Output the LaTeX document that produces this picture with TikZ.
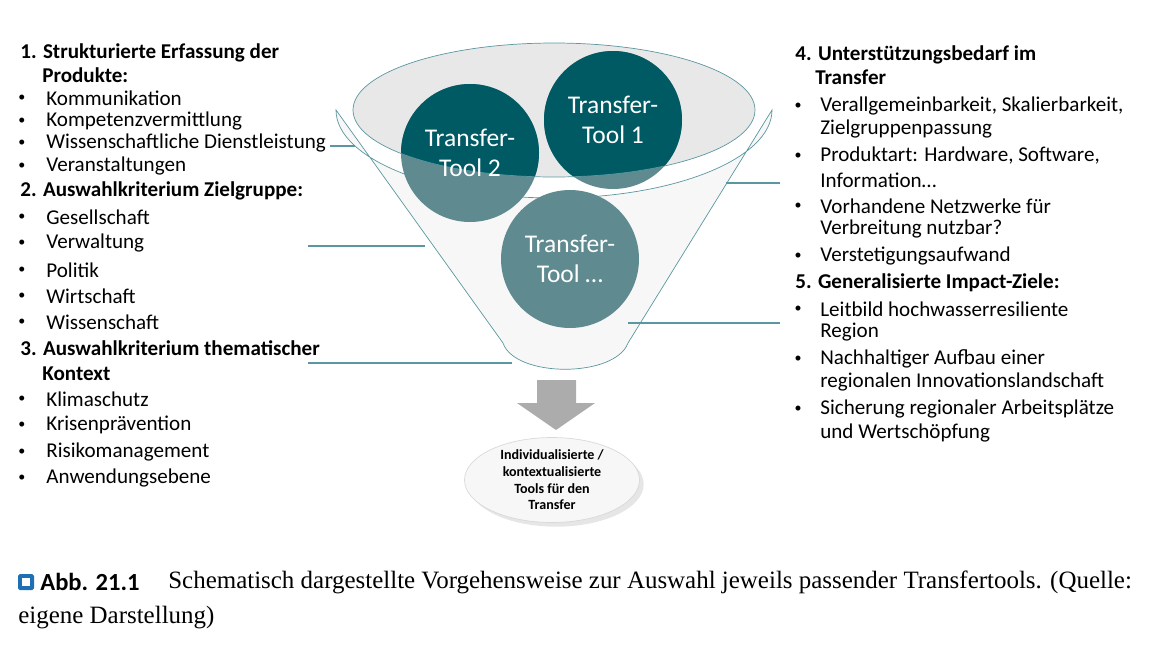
\documentclass[tikz,border=0pt]{standalone}
\usepackage{fontspec}
\setmainfont{Carlito}
\newfontfamily\capfont{Liberation Serif}
\usetikzlibrary{positioning,shadows,shapes.geometric}
\definecolor{tealdark}{HTML}{005A64}
\definecolor{teallight}{HTML}{5F8A8F}
\definecolor{tealline}{HTML}{5A97A0}
\definecolor{capblue}{HTML}{1F6FB4}
\begin{document}
\begin{tikzpicture}
    [
        x=0.02cm, y=-0.02cm,
        txt/.style={anchor=west, inner sep=0pt, font=\fontsize{12}{14}\selectfont},
        head/.style={txt, font=\fontsize{12}{14}\selectfont\bfseries},
        bul/.style={anchor=center, inner sep=0pt, font=\fontsize{8}{10}\selectfont},
        tool/.style={circle, minimum size=2.76cm, inner sep=0pt},
        toolTxt/.style={align=center, text=white, font=\fontsize{14.5}{17}\selectfont},
        link/.style={tealline, thick}
    ]
    \useasboundingbox (0,0) rectangle (1156,650);
    % funnel body
    \draw[tealline, fill=gray!6] (336,110) arc[start angle=180, end angle=0, x radius=218, y radius=88]
        -- (628,343) .. controls (615,378) and (515,378) .. (503,343) -- cycle;
    \fill[gray!18] (554,110) ellipse [x radius=201, y radius=67];
    % tools
    \node[tool, fill=teallight] (t2) at (470,153) {};
    \node[tool, fill=teallight] (t1) at (613,120) {};
    \node[tool, fill=teallight] (tn) at (570,259) {};
    \begin{scope}
        \clip (554,110) ellipse [x radius=201, y radius=67];
        \fill[tealdark] (t2) circle [radius=69];
        \fill[tealdark] (t1) circle [radius=69];
    \end{scope}
    \draw[tealline] (554,110) ellipse [x radius=201, y radius=67];
    \node[toolTxt] at (t2) {Transfer-\\Tool 2};
    \node[toolTxt] at (t1) {Transfer-\\Tool 1};
    \node[toolTxt] at (tn) {Transfer-\\Tool \dots};
    % connectors
    \coordinate (a1) at (330,146); \coordinate (a2) at (355,146);
    \coordinate (b1) at (308,246); \coordinate (b2) at (425,246);
    \coordinate (c1) at (308,363); \coordinate (c2) at (512,363);
    \coordinate (d1) at (726,183); \coordinate (d2) at (780,183);
    \coordinate (e1) at (628,323); \coordinate (e2) at (780,323);
    \draw[link] (a1) -- (a2);
    \draw[link] (b1) -- (b2);
    \draw[link] (c1) -- (c2);
    \draw[link] (d1) -- (d2);
    \draw[link] (e1) -- (e2);
    % arrow and result
    \fill[gray!65] (537,380) -- (576,380) -- (576,403) -- (595,403) -- (556,430)
        -- (517,403) -- (537,403) -- cycle;
    \node[ellipse, draw=gray!30, fill=gray!6, minimum width=3.5cm, minimum height=1.7cm,
        drop shadow={opacity=0.2}, align=center, inner sep=0pt,
        font=\fontsize{8}{9.5}\selectfont\bfseries] (res) at (552,480)
        {Individualisierte /\\kontextualisierte\\Tools für den\\Transfer};
    % left list
    \node[head] (h1) at (20,53) {1. Strukturierte Erfassung der};
    \node[head] (h1b) at (42,75) {Produkte:};
    \node[head] (h2) at (20,191) {2. Auswahlkriterium Zielgruppe:};
    \node[head] (h3) at (20,348) {3. Auswahlkriterium thematischer};
    \node[head] (h3b) at (42,374) {Kontext};
    \foreach \y/\t in {98/Kommunikation,121/Kompetenzvermittlung,143/Wissenschaftliche Dienstleistung,
        166/Veranstaltungen,217/Gesellschaft,243/Verwaltung,270/Politik,296/Wirtschaft,322/Wissenschaft,
        399/Klimaschutz,425/Krisenprävention,452/Risikomanagement,478/Anwendungsebene}
    {
        \node[bul] (lb\y) at (22,\y) {•};
        \node[txt] (l\y) at (46,\y) {\t};
    }
    % right list
    \node[head] (h4) at (795,55) {4. Unterstützungsbedarf im};
    \node[head] (h4b) at (815,77) {Transfer};
    \node[head] (h5) at (795,283) {5. Generalisierte Impact-Ziele:};
    \foreach \y/\t in {106/{Verallgemeinbarkeit, Skalierbarkeit,},129/Zielgruppenpassung,
        156/{Produktart: Hardware, Software,},180/Information\dots,206/Vorhandene Netzwerke für,
        229/Verbreitung nutzbar?,256/Verstetigungsaufwand,309/Leitbild hochwasserresiliente,
        332/Region,359/Nachhaltiger Aufbau einer,382/regionalen Innovationslandschaft,
        409/Sicherung regionaler Arbeitsplätze,433/und Wertschöpfung}
    {
        \node[txt] (r\y) at (820,\y) {\t};
    }
    \foreach \y in {106,156,206,256,309,359,409}
        \node[bul] (rb\y) at (798,\y) {•};
    % caption
    \fill[capblue, rounded corners=1pt] (18,574) rectangle (34,590);
    \fill[white] (22,578) rectangle (30,586);
    \node[anchor=west, inner sep=0pt, font=\fontsize{14}{16}\selectfont\bfseries] (abb) at (40,582) {Abb. 21.1};
    \node[anchor=west, inner sep=0pt, font=\fontsize{14.2}{17}\capfont] (cap1) at (168,582)
        {Schematisch dargestellte Vorgehensweise zur Auswahl jeweils passender Transfertools. (Quelle:};
    \node[anchor=west, inner sep=0pt, font=\fontsize{14.2}{17}\capfont] (cap2) at (18,618) {eigene Darstellung)};
\end{tikzpicture}
\end{document}
